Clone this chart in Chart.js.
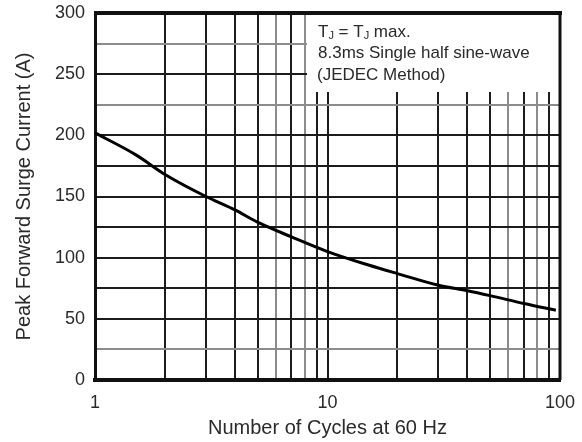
<!DOCTYPE html>
<html>
<head>
<meta charset="utf-8">
<script src="https://cdn.jsdelivr.net/npm/chart.js@4/dist/chart.umd.min.js"></script>
<style>
  body { margin: 0; background: #fff; }
  canvas { display: block; }
</style>
</head>
<body>
<canvas id="surge" width="582" height="442"></canvas>
<script>
// Peak forward surge current vs number of cycles
const cycles = [1, 1.5, 2, 3, 4, 5, 7, 10, 15, 20, 30, 40, 50, 70, 96];
const surge = [202, 184, 168, 150, 139, 129, 117, 105, 94, 87, 77.5, 73, 69, 62.5, 57];

const xGrid = [1, 2, 3, 4, 5, 6, 7, 8, 9, 10, 20, 30, 40, 50, 60, 70, 80, 90, 100];
const xLabels = [1, 10, 100];
const xGrey = [6, 8, 60, 80];
const yGrey = [25, 225, 275];

const note = ["8.3ms Single half sine-wave", "(JEDEC Method)"];

const FONT = "'Liberation Sans', Arial, sans-serif";
const DARK = "#1c1c1c";
const GREY = "#8c8c8c";

// white box behind the test-condition note, then the note text
const notePlugin = {
  id: "note",
  beforeDatasetsDraw(chart) {
    const { ctx, chartArea } = chart;
    ctx.save();
    ctx.fillStyle = "#fff";
    ctx.fillRect(307, chartArea.top, chartArea.right - 307, 92 - chartArea.top);

    ctx.fillStyle = "#2a2a2a";
    ctx.textBaseline = "alphabetic";
    const big = "17px " + FONT;
    const small = "11px " + FONT;
    let x = 318, y = 37;
    const part = (txt, f, dy) => {
      ctx.font = f;
      ctx.fillText(txt, x, y + dy);
      x += ctx.measureText(txt).width;
    };
    part("T", big, 0);
    part("J", small, 2);
    part(" = T", big, 0);
    part("J", small, 2);
    part(" max.", big, 0);

    ctx.font = big;
    ctx.fillText(note[0], 318, 58);
    ctx.fillText(note[1], 317, 80);
    ctx.restore();
  },
  afterDraw(chart) {
    const { ctx, chartArea } = chart;
    ctx.save();
    ctx.strokeStyle = "#111";
    ctx.lineWidth = 4;
    ctx.beginPath();
    ctx.moveTo(chartArea.left - 1, chartArea.top);
    ctx.lineTo(chartArea.right + 2, chartArea.top);
    ctx.stroke();
    ctx.lineWidth = 3;
    ctx.beginPath();
    ctx.moveTo(chartArea.right, chartArea.top);
    ctx.lineTo(chartArea.right, chartArea.bottom);
    ctx.stroke();
    ctx.restore();
  },
};

new Chart(document.getElementById("surge"), {
  type: "line",
  data: {
    datasets: [
      {
        data: cycles.map((c, i) => ({ x: c, y: surge[i] })),
        borderColor: "#000",
        borderWidth: 3,
        pointRadius: 0,
        cubicInterpolationMode: "monotone",
        fill: false,
      },
    ],
  },
  options: {
    responsive: false,
    animation: false,
    layout: { padding: { top: 13, right: 22, left: 0, bottom: 0 } },
    plugins: {
      legend: { display: false },
      tooltip: { enabled: false },
    },
    scales: {
      x: {
        type: "logarithmic",
        min: 1,
        max: 100,
        afterBuildTicks: (scale) => {
          scale.ticks = xGrid.map((v) => ({ value: v }));
        },
        afterFit: (scale) => {
          scale.height = 62;
          scale.paddingLeft = 0;
          scale.paddingRight = 0;
        },
        ticks: {
          autoSkip: false,
          maxRotation: 0,
          padding: 12,
          color: "#2a2a2a",
          font: { family: FONT, size: 18 },
          callback: (v) => (xLabels.includes(v) ? String(v) : ""),
        },
        grid: {
          drawTicks: false,
          lineWidth: 2,
          color: (ctx) => (ctx.tick && xGrey.includes(ctx.tick.value) ? GREY : DARK),
        },
        border: { color: "#111", width: 4 },
        title: {
          display: true,
          text: "Number of Cycles at 60 Hz",
          color: "#2a2a2a",
          font: { family: FONT, size: 20 },
          padding: { top: 0, bottom: 2 },
        },
      },
      y: {
        min: 0,
        max: 300,
        afterFit: (scale) => {
          scale.width = 95;
          scale.paddingTop = 0;
          scale.paddingBottom = 0;
        },
        ticks: {
          stepSize: 25,
          autoSkip: false,
          padding: 10,
          color: "#2a2a2a",
          font: { family: FONT, size: 18 },
          callback: (v) => (v % 50 === 0 ? String(v) : ""),
        },
        grid: {
          drawTicks: false,
          lineWidth: 2,
          color: (ctx) => (ctx.tick && yGrey.includes(ctx.tick.value) ? GREY : DARK),
        },
        border: { color: "#111", width: 3 },
        title: {
          display: true,
          text: "Peak Forward Surge Current (A)",
          color: "#2a2a2a",
          font: { family: FONT, size: 20 },
          padding: { top: 12, bottom: 0 },
        },
      },
    },
  },
  plugins: [notePlugin],
});
</script>
</body>
</html>
